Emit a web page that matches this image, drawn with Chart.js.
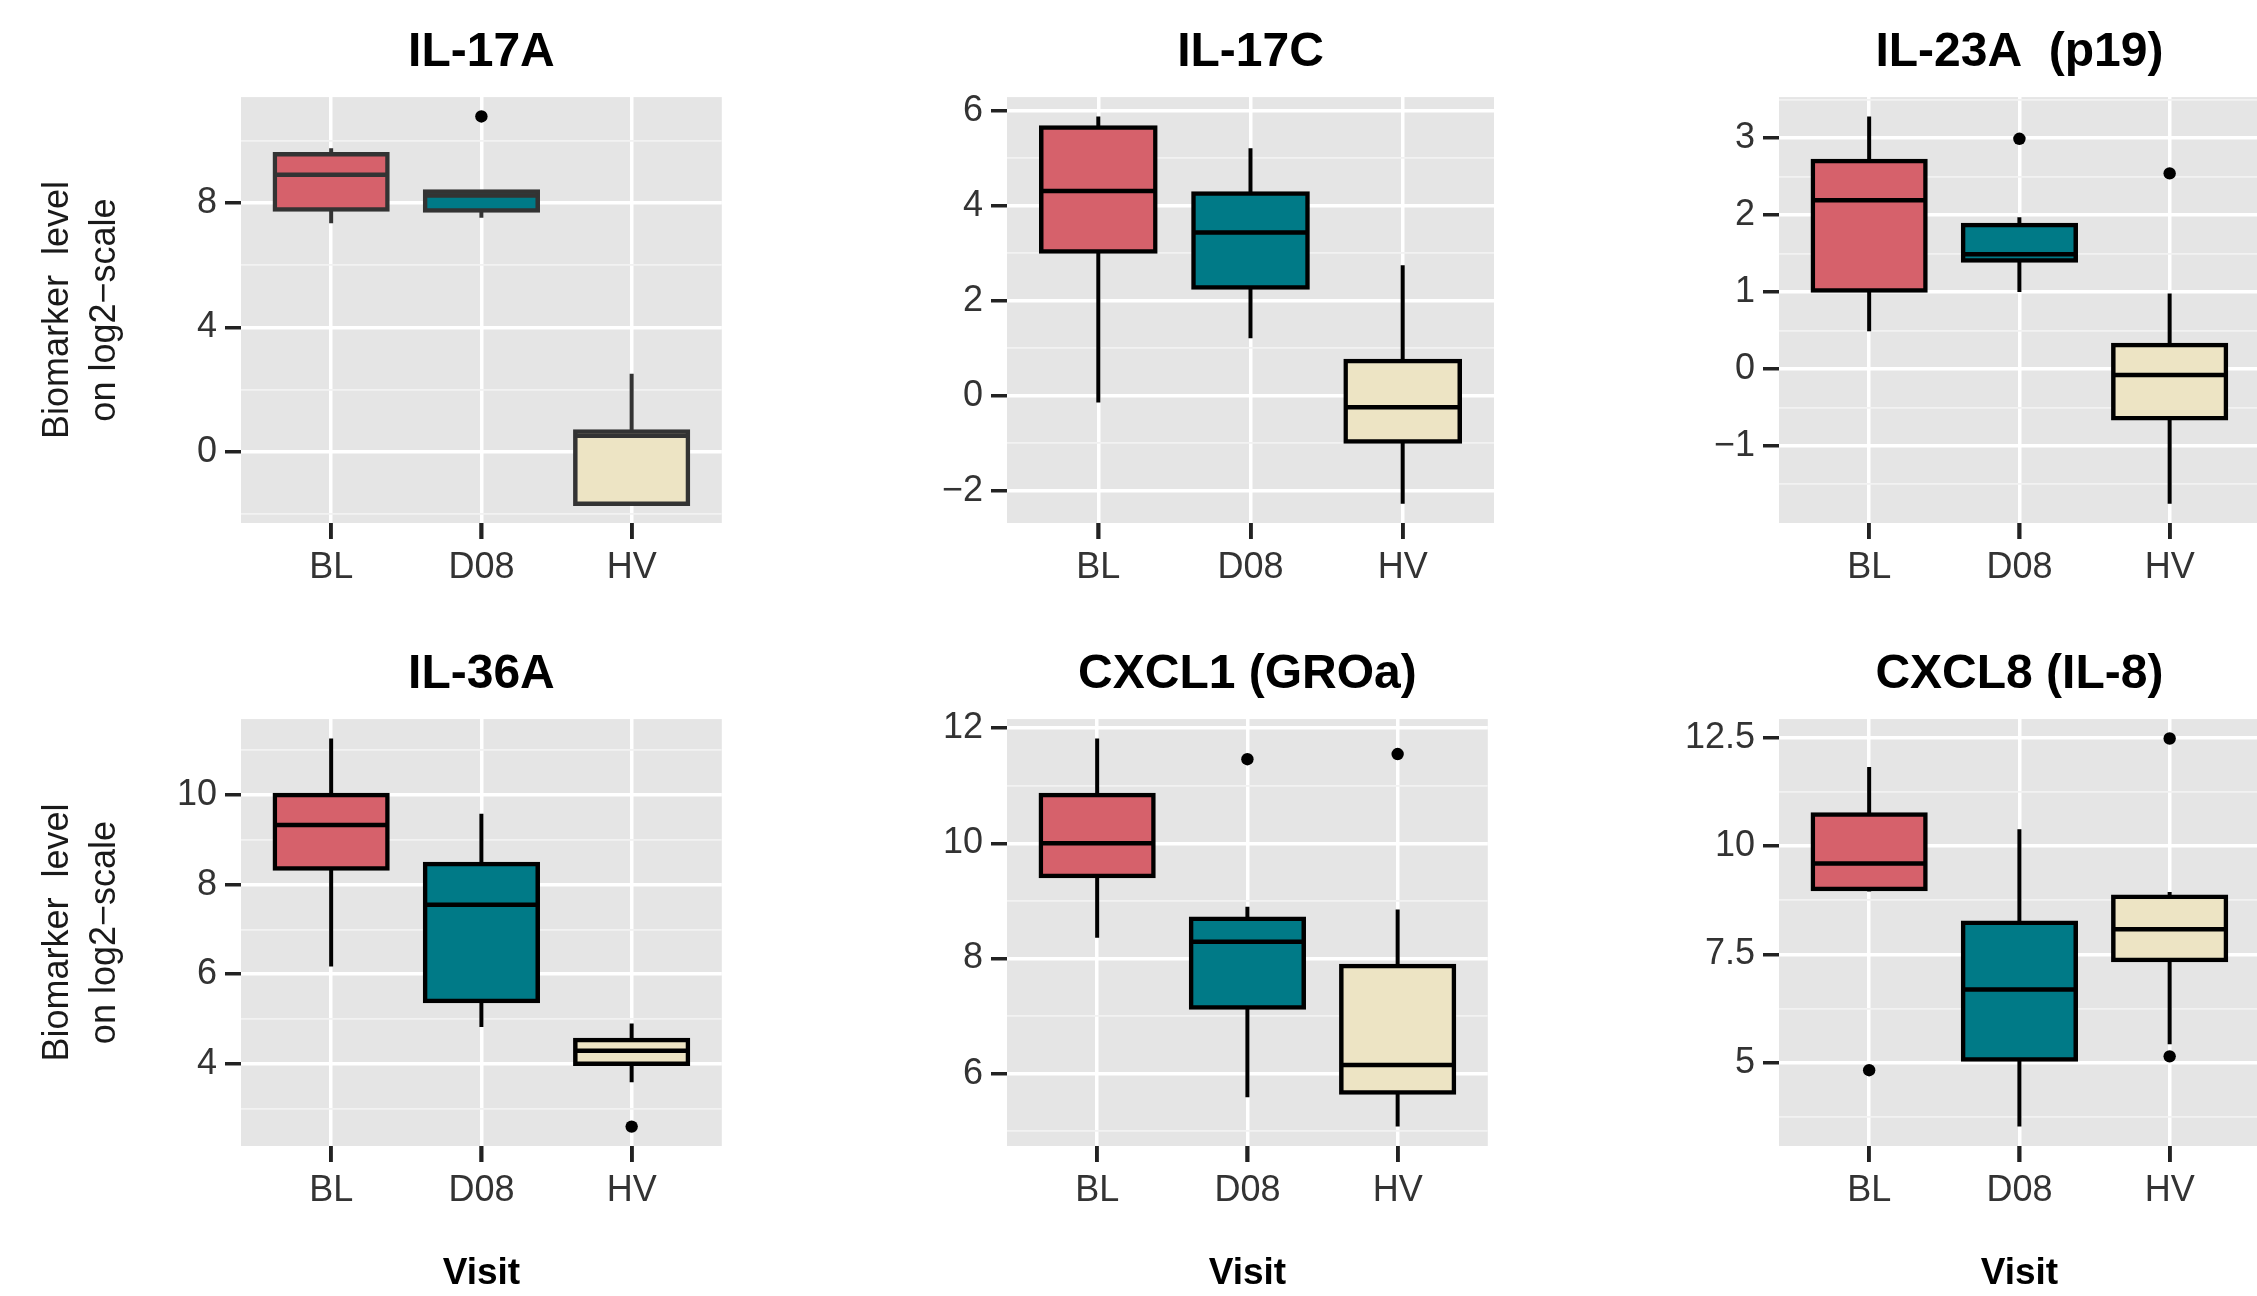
<!DOCTYPE html>
<html>
<head>
<meta charset="utf-8">
<title>Biomarker levels by visit</title>
<script src="https://cdn.jsdelivr.net/npm/chart.js@4.4.1/dist/chart.umd.min.js"></script>
<style>
  html, body { margin: 0; padding: 0; width: 2257px; height: 1296px; overflow: hidden; background: #ffffff; }
  body { position: relative; }
  canvas { position: absolute; }
</style>
</head>
<body>
<canvas id="p1"></canvas>
<canvas id="p2"></canvas>
<canvas id="p3"></canvas>
<canvas id="p4"></canvas>
<canvas id="p5"></canvas>
<canvas id="p6"></canvas>
<script>
// ---- data -------------------------------------------------------------
const visits = ['BL', 'D08', 'HV'];

// per visit: [lower whisker, Q1, median, Q3, upper whisker]
const il17aStats = [[7.34, 7.78, 8.90, 9.56, 9.75], [7.52, 7.75, 8.23, 8.36, 8.36], [-1.66, -1.66, 0.52, 0.66, 2.51]];
const il17aOutliers = [[], [10.77], []];
const il17aTicks = [0, 4, 8];

const il17cStats = [[-0.14, 3.04, 4.31, 5.65, 5.88], [1.21, 2.28, 3.44, 4.26, 5.21], [-2.27, -0.96, -0.24, 0.73, 2.75]];
const il17cOutliers = [[], [], []];
const il17cTicks = [-2, 0, 2, 4, 6];

const il23aStats = [[0.49, 1.02, 2.19, 2.70, 3.28], [1.00, 1.41, 1.49, 1.87, 1.97], [-1.75, -0.64, -0.08, 0.31, 0.98]];
const il23aOutliers = [[], [2.99], [2.54]];
const il23aTicks = [-1, 0, 1, 2, 3];

const il36aStats = [[6.17, 8.36, 9.33, 10.00, 11.26], [4.82, 5.40, 7.55, 8.46, 9.58], [3.59, 4.00, 4.29, 4.53, 4.90]];
const il36aOutliers = [[], [], [2.60]];
const il36aTicks = [4, 6, 8, 10];

const cxcl1Stats = [[8.36, 9.43, 10.00, 10.84, 11.82], [5.59, 7.15, 8.29, 8.69, 8.90], [5.08, 5.67, 6.15, 7.87, 8.85]];
const cxcl1Outliers = [[], [11.46], [11.55]];
const cxcl1Ticks = [6, 8, 10, 12];

const cxcl8Stats = [[8.95, 9.01, 9.60, 10.73, 11.82], [3.53, 5.08, 6.69, 8.23, 10.39], [5.43, 7.37, 8.08, 8.83, 8.94]];
const cxcl8Outliers = [[4.83], [], [12.48, 5.15]];
const cxcl8Ticks = [5, 7.5, 10, 12.5];

const panelTitles = ['IL-17A', 'IL-17C', 'IL-23A  (p19)', 'IL-36A', 'CXCL1 (GROa)', 'CXCL8 (IL-8)'];
const yAxisTitle = ['Biomarker  level', 'on log2\u2212scale'];
const xAxisTitle = 'Visit';

// ---- styling ----------------------------------------------------------
const visitFills = ['#D6616B', '#007A87', '#EDE4C4'];
const FONT = "'Liberation Sans', Arial, Helvetica, sans-serif";
const BOX_WIDTH = 0.75;          // box width as a share of the category spacing
const X_EXPAND = 0.6;            // discrete axis padding on each side
const Y_EXPAND = 0.05;           // continuous axis padding (share of data range)
const STROKE_W = 4.5;
const TICK_LEN = 16;
const TICK_W = 3.5;
const TICK_COLOR = '#222222';

const COL_LEFT = [0, 766, 1538];
const ROW_TOP = [0, 622];
const ROW_HEIGHT = [622, 674];
const AXIS_W = 241;
const PANEL_W = 487;
const X_AXIS_H = [99, 150];

const panels = [
  { id: 'p1', title: panelTitles[0], stats: il17aStats, outliers: il17aOutliers, ticks: il17aTicks, row: 0, col: 0, stroke: '#333333' },
  { id: 'p2', title: panelTitles[1], stats: il17cStats, outliers: il17cOutliers, ticks: il17cTicks, row: 0, col: 1, stroke: '#000000' },
  { id: 'p3', title: panelTitles[2], stats: il23aStats, outliers: il23aOutliers, ticks: il23aTicks, row: 0, col: 2, stroke: '#000000' },
  { id: 'p4', title: panelTitles[3], stats: il36aStats, outliers: il36aOutliers, ticks: il36aTicks, row: 1, col: 0, stroke: '#000000' },
  { id: 'p5', title: panelTitles[4], stats: cxcl1Stats, outliers: cxcl1Outliers, ticks: cxcl1Ticks, row: 1, col: 1, stroke: '#000000' },
  { id: 'p6', title: panelTitles[5], stats: cxcl8Stats, outliers: cxcl8Outliers, ticks: cxcl8Ticks, row: 1, col: 2, stroke: '#000000' }
];

// grey panel background behind the grid
const panelBackground = {
  id: 'panelBackground',
  beforeDraw(chart) {
    const { ctx, chartArea: a } = chart;
    ctx.save();
    ctx.fillStyle = '#E5E5E5';
    ctx.fillRect(a.left, a.top, a.right - a.left, a.bottom - a.top);
    ctx.restore();
  }
};

// short tick marks under the panel at each visit position
const visitTickMarks = {
  id: 'visitTickMarks',
  afterDraw(chart) {
    const { ctx, chartArea: a, scales: { x } } = chart;
    ctx.save();
    ctx.strokeStyle = TICK_COLOR;
    ctx.lineWidth = TICK_W;
    ctx.lineCap = 'butt';
    x.ticks.forEach(t => {
      const px = Math.round(x.getPixelForValue(t.value));
      ctx.beginPath();
      ctx.moveTo(px, a.bottom);
      ctx.lineTo(px, a.bottom + TICK_LEN);
      ctx.stroke();
    });
    ctx.restore();
  }
};

function fmtTick(v) {
  return String(v).replace('-', '\u2212');
}

function buildPanel(p) {
  const canvas = document.getElementById(p.id);
  canvas.width = AXIS_W + PANEL_W;
  canvas.height = ROW_HEIGHT[p.row];
  canvas.style.left = COL_LEFT[p.col] + 'px';
  canvas.style.top = ROW_TOP[p.row] + 'px';

  const xs = visits.map((_, i) => i + 1);
  const half = BOX_WIDTH / 2;

  const boxData = p.stats.map((s, i) => ({ x: xs[i], y: [s[1], s[3]] }));
  const medianData = [];
  const whiskerData = [];
  p.stats.forEach((s, i) => {
    medianData.push({ x: xs[i] - half, y: s[2] }, { x: xs[i] + half, y: s[2] }, { x: xs[i], y: null });
    whiskerData.push({ x: xs[i], y: s[0] }, { x: xs[i], y: s[4] }, { x: xs[i], y: null });
  });
  const outlierData = p.outliers.flatMap((vals, i) => vals.map(v => ({ x: xs[i], y: v })));

  // y limits: data range widened by 5 % on both ends
  const all = p.stats.flat().concat(p.outliers.flat());
  const lo = Math.min(...all), hi = Math.max(...all);
  const yMin = lo - (hi - lo) * Y_EXPAND;
  const yMax = hi + (hi - lo) * Y_EXPAND;
  const step = p.ticks[1] - p.ticks[0];
  const isMajor = v => p.ticks.some(t => Math.abs(t - v) < 1e-6);

  const isLeft = p.col === 0;
  const isBottom = p.row === 1;

  return new Chart(canvas, {
    type: 'bar',
    data: {
      datasets: [
        {
          type: 'scatter', data: outlierData, order: 0,
          pointRadius: 6.2, pointBackgroundColor: '#000', pointBorderWidth: 0, pointBorderColor: '#000'
        },
        {
          type: 'line', data: medianData, order: 1,
          borderColor: p.stroke, borderWidth: STROKE_W, pointRadius: 0, spanGaps: false, borderCapStyle: 'butt', tension: 0
        },
        {
          type: 'bar', data: boxData, order: 2,
          backgroundColor: visitFills, borderColor: p.stroke, borderWidth: STROKE_W, borderSkipped: false,
          inflateAmount: STROKE_W / 2, categoryPercentage: 1, barPercentage: BOX_WIDTH
        },
        {
          type: 'line', data: whiskerData, order: 3,
          borderColor: p.stroke, borderWidth: 4, pointRadius: 0, spanGaps: false, borderCapStyle: 'butt', tension: 0
        }
      ]
    },
    options: {
      responsive: false,
      animation: false,
      devicePixelRatio: 1,
      events: [],
      layout: { padding: 0 },
      plugins: {
        legend: { display: false },
        tooltip: { enabled: false },
        title: {
          display: true,
          text: p.title,
          align: 'center',
          fullSize: false,
          color: '#000000',
          font: { family: FONT, size: 48, weight: 'bold', lineHeight: 1.2 },
          padding: { top: 24, bottom: 15.5 }
        }
      },
      scales: {
        x: {
          type: 'linear',
          bounds: 'data',
          offset: false,
          min: 1 - X_EXPAND,
          max: visits.length + X_EXPAND,
          afterBuildTicks: axis => { axis.ticks = xs.map(v => ({ value: v })); },
          afterFit: axis => { axis.height = X_AXIS_H[p.row]; },
          ticks: {
            autoSkip: false, maxRotation: 0, padding: 7,
            color: '#333333',
            font: { family: FONT, size: 36 },
            callback: v => visits[Math.round(v) - 1]
          },
          grid: {
            offset: false,
            color: '#FFFFFF', lineWidth: 3.5,
            drawTicks: true, tickLength: TICK_LEN, tickWidth: TICK_W,
            tickColor: TICK_COLOR
          },
          border: { display: false },
          title: {
            display: isBottom,
            text: xAxisTitle,
            color: '#000000',
            font: { family: FONT, size: 37, weight: 'bold', lineHeight: 1.2 },
            padding: { top: 0, bottom: 0 }
          }
        },
        y: {
          type: 'linear',
          bounds: 'data',
          beginAtZero: false,
          min: yMin,
          max: yMax,
          afterBuildTicks: axis => {
            const t = [];
            const first = p.ticks[0], last = p.ticks[p.ticks.length - 1];
            for (let v = first - step / 2; v <= last + step / 2 + 1e-9; v += step / 2) {
              const val = +v.toFixed(6);
              if (val >= yMin && val <= yMax) t.push({ value: val });
            }
            axis.ticks = t;
          },
          afterFit: axis => { axis.width = AXIS_W; },
          ticks: {
            autoSkip: false, padding: 8,
            color: '#333333',
            font: { family: FONT, size: 36 },
            callback: v => (isMajor(v) ? fmtTick(v) : '')
          },
          grid: {
            color: ctx => (isMajor(ctx.tick.value) ? '#FFFFFF' : '#F2F2F2'),
            lineWidth: ctx => (isMajor(ctx.tick.value) ? 3.5 : 1.8),
            drawTicks: true, tickLength: TICK_LEN, tickWidth: TICK_W,
            tickColor: ctx => (isMajor(ctx.tick.value) ? TICK_COLOR : 'rgba(0,0,0,0)')
          },
          border: { display: false },
          title: {
            display: isLeft,
            text: yAxisTitle,
            color: '#1a1a1a',
            font: { family: FONT, size: 36, lineHeight: 1.3 },
            padding: { top: 35, bottom: 0 }
          }
        }
      }
    },
    plugins: [panelBackground, visitTickMarks]
  });
}

panels.forEach(buildPanel);
</script>
</body>
</html>
